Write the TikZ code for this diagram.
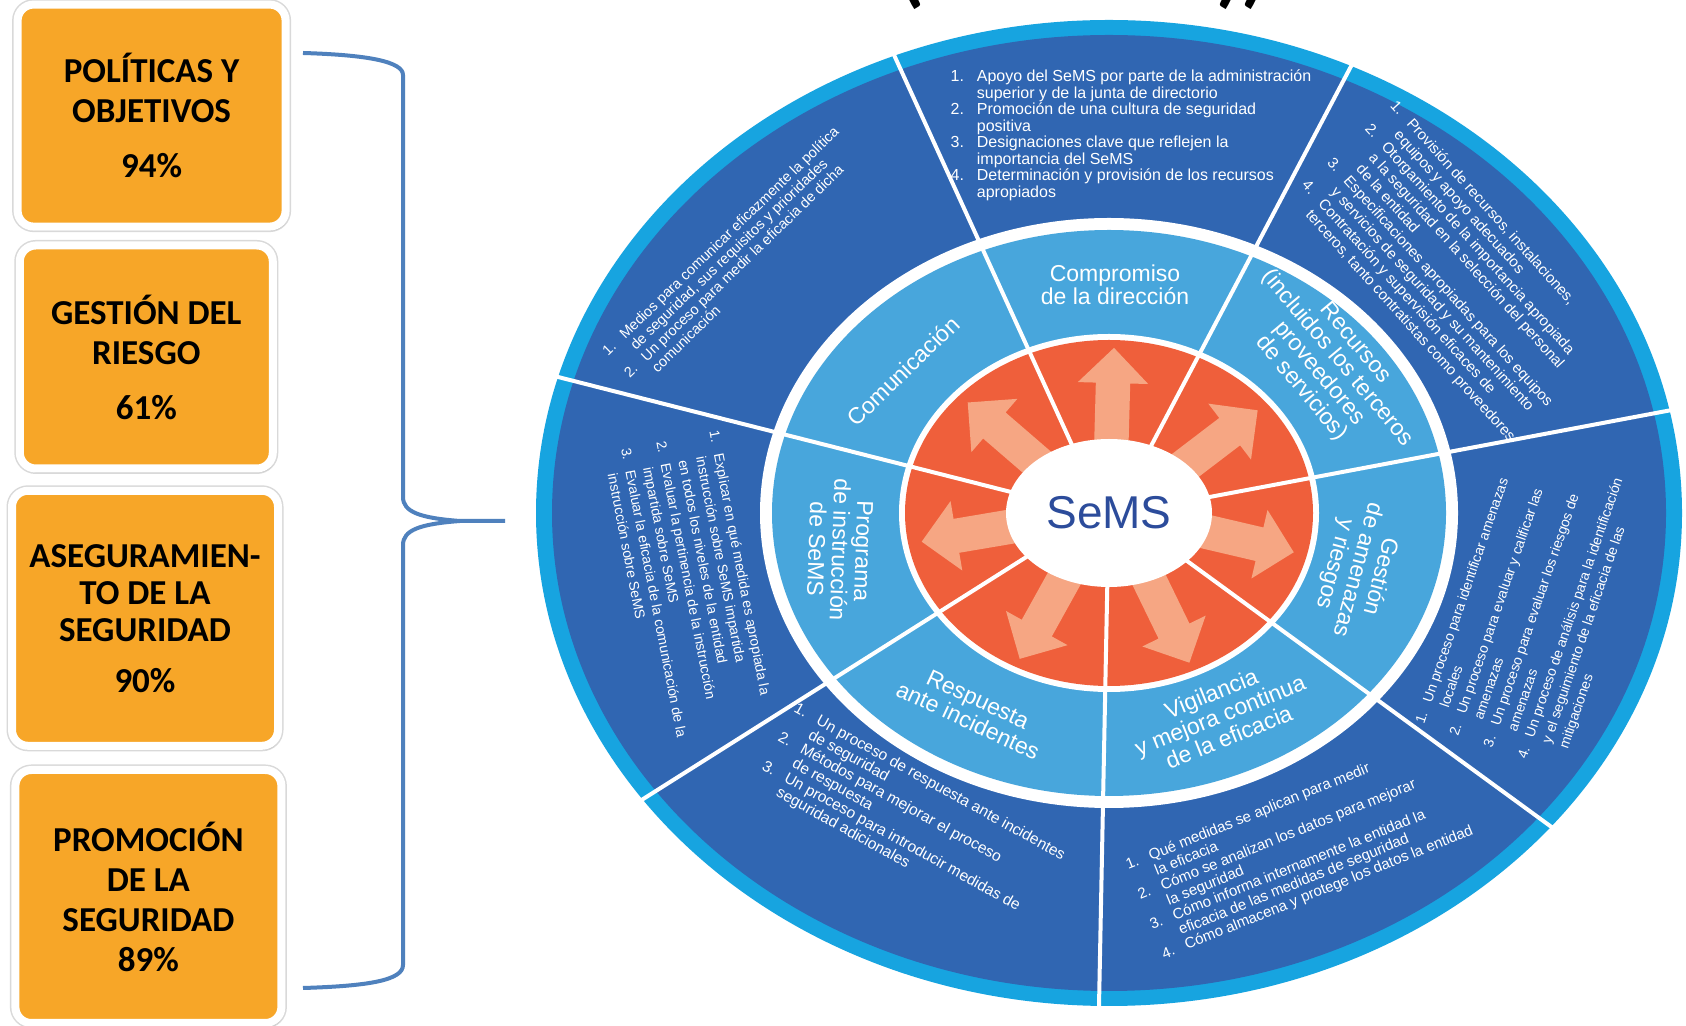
\documentclass[tikz,border=0pt]{standalone}
\usepackage{fontspec}
\setmainfont{Liberation Sans}
\newfontfamily\boxfont{Carlito}
\usetikzlibrary{shapes.arrows, shadows, calc}
\definecolor{ringcyan}{RGB}{23,164,224}
\definecolor{ringdark}{RGB}{48,102,178}
\definecolor{ringmid}{RGB}{72,166,220}
\definecolor{ringorange}{RGB}{239,95,59}
\definecolor{arrowsalmon}{RGB}{246,166,131}
\definecolor{semsblue}{RGB}{44,76,155}
\definecolor{boxorange}{RGB}{247,166,40}
\definecolor{bracketblue}{RGB}{79,129,189}
\newcommand{\itemlist}[1]{\begin{tabular}{@{}r@{\hspace{0.8em}}l@{}}#1\end{tabular}}

\begin{document}
\begin{tikzpicture}[x=1pt, y=1pt,
    outertxt/.style={text=white, inner sep=0pt, align=left},
    midtxt/.style={text=white, inner sep=0pt, align=center, font=\fontsize{23}{23.5}\selectfont},
    divider/.style={white, line width=4pt},
    bigarrow/.style={single arrow, fill=arrowsalmon, inner xsep=0pt, inner ysep=17pt,
        single arrow head extend=18pt, single arrow tip angle=90, minimum height=#1},
    boxnode/.style={fill=boxorange, draw=white, line width=8pt, rounded corners=16pt,
        preaction={draw=black!15, line width=11pt},
        drop shadow={shadow xshift=2pt, shadow yshift=-4pt, opacity=0.25},
        align=center, inner sep=0pt, font=\boxfont\bfseries\fontsize{35}{40}\selectfont}]

    \fill[white] (0,0) rectangle (1686,1025);
    \useasboundingbox (0,0) rectangle (1686,1025);

    % cut title
    \node[font=\boxfont\bfseries\fontsize{80}{80}\selectfont, anchor=base, inner sep=0pt] (tleft) at (912,1027) {(};
    \node[font=\boxfont\bfseries\fontsize{80}{80}\selectfont, anchor=base, inner sep=0pt] (tright) at (1241,1027) {))};

    % boxes on the left
    \node[boxnode, minimum width=268, minimum height=222] (pol) at (151.6,909.4) {POLÍTICAS Y\\OBJETIVOS\\[15pt]94\%};
    \node[boxnode, minimum width=253, minimum height=223] (ges) at (146.3,668) {GESTIÓN DEL\\RIESGO\\[15pt]61\%};
    \node[boxnode, minimum width=266, minimum height=255, font=\boxfont\bfseries\fontsize{35}{37}\selectfont] (ase) at (145,406.7) {ASEGURAMIEN-\\TO DE LA\\SEGURIDAD\\[14pt]90\%};
    \node[boxnode, minimum width=266, minimum height=253] (pro) at (148.4,128.5) {PROMOCIÓN\\DE LA\\SEGURIDAD\\89\%};

    % brace
    \draw[bracketblue, line width=4pt] (303,972) .. controls (370,970) and (403,963) .. (403,950) -- (403,528)
        .. controls (403,513) and (420,507) .. (460,504) -- (505,504);
    \draw[bracketblue, line width=4pt] (460,504) .. controls (420,501) and (403,495) .. (403,480) -- (403,60)
        .. controls (403,45) and (370,39) .. (303,37);

    % rings
    \coordinate (cen) at (1109,512);
    \begin{scope}[shift={(cen)}]
        \fill[ringcyan] (0,0) ellipse (573 and 493);
        \fill[ringdark] (0,0) ellipse (557 and 478);
        \fill[white] (0,0) ellipse (349 and 295);
        \fill[ringmid] (0,0) ellipse (337 and 283);
        \fill[white] (0,0) ellipse (210 and 179);
        \fill[ringorange] (0,0) ellipse (204 and 173);
    \end{scope}

    \foreach \a in {88.5,38.5,-13.75,-65,-118,190,138}
        \path let \p1=($(cen)+(\a:70 and 50)$), \p2=($(cen)+(\a:190 and 165)$),
                  \n1={atan2(\y2-\y1,\x2-\x1)}, \n2={veclen(\x2-\x1,\y2-\y1)} in
              node[bigarrow=\n2, rotate=\n1, anchor=tail] at (\p1) {};

    \foreach \a in {112,65,12,-39.5,-91,-144.5,164}
        \draw[divider] ($(cen)+(\a:95 and 70)$) -- ($(cen)+(\a:575 and 495)$);

    \fill[white] (cen) ellipse (103 and 74);
    \node[font=\fontsize{46}{50}\selectfont, text=semsblue] (sems) at (cen) {SeMS};

    % middle ring
    \node[midtxt] (lcomp) at (1115,740) {Compromiso\\de la dirección};
    \node[midtxt, rotate=44] (lcom) at (903,654) {Comunicación};
    \node[midtxt, rotate=-50] (lrec) at (1328,659) {Recursos\\(incluidos los terceros\\proveedores\\de servicios)};
    \node[midtxt, rotate=-105] (lges) at (1357,455) {Gestión\\de amenazas\\y riesgos};
    \node[midtxt, rotate=22] (lvig) at (1220,310) {Vigilancia\\y mejora continua\\de la eficacia};
    \node[midtxt, rotate=-25] (lres) at (973,315) {Respuesta\\ante incidentes};
    \node[midtxt, rotate=-92] (lpro) at (840,475) {Programa\\de instrucción\\de SeMS};

    % outer ring
    \node[outertxt, font=\fontsize{16}{16}\selectfont] (tcomp) at (1131,889) {\itemlist{
        1. & Apoyo del SeMS por parte de la administración\\
           & superior y de la junta de directorio\\
        2. & Promoción de una cultura de seguridad\\
           & positiva\\
        3. & Designaciones clave que reflejen la\\
           & importancia del SeMS\\
        4. & Determinación y provisión de los recursos\\
           & apropiados}};
    \node[outertxt, rotate=-48, font=\fontsize{15}{17}\selectfont] (trec) at (1452,753) {\itemlist{
        1. & Provisión de recursos, instalaciones,\\
           & equipos y apoyo adecuados\\
        2. & Otorgamiento de la importancia apropiada\\
           & a la seguridad en la selección del personal\\
           & de la entidad\\
        3. & Especificaciones apropiadas para los equipos\\
           & y servicios de seguridad y su mantenimiento\\
        4. & Contratación y supervisión eficaces de\\
           & terceros, tanto contratistas como proveedores}};
    \node[outertxt, rotate=71, font=\fontsize{14}{18}\selectfont] (tges) at (1537,418) {\itemlist{
        1. & Un proceso para identificar amenazas\\
           & locales\\
        2. & Un proceso para evaluar y calificar las\\
           & amenazas\\
        3. & Un proceso para evaluar los riesgos de\\
           & amenazas\\
        4. & Un proceso de análisis para la identificación\\
           & y el seguimiento de la eficacia de las\\
           & mitigaciones}};
    \node[outertxt, rotate=22, font=\fontsize{15}{16}\selectfont] (tvig) at (1300,176) {\itemlist{
        1. & Qué medidas se aplican para medir\\
           & la eficacia\\
        2. & Cómo se analizan los datos para mejorar\\
           & la seguridad\\
        3. & Cómo informa internamente la entidad la\\
           & eficacia de las medidas de seguridad\\
        4. & Cómo almacena y protege los datos la entidad}};
    \node[outertxt, rotate=-29, font=\fontsize{15.5}{16.5}\selectfont] (tres) at (909,206) {\itemlist{
        1. & Un proceso de respuesta ante incidentes\\
           & de seguridad\\
        2. & Métodos para mejorar el proceso\\
           & de respuesta\\
        3. & Un proceso para introducir medidas de\\
           & seguridad adicionales}};
    \node[outertxt, rotate=-79, font=\fontsize{14}{18}\selectfont] (tpro) at (688,439) {\itemlist{
        1. & Explicar en qué medida es apropiada la\\
           & instrucción sobre SeMS impartida\\
           & en todos los niveles de la entidad\\
        2. & Evaluar la pertinencia de la instrucción\\
           & impartida sobre SeMS\\
        3. & Evaluar la eficacia de la comunicación de la\\
           & instrucción sobre SeMS}};
    \node[outertxt, rotate=44, font=\fontsize{14.5}{15.5}\selectfont] (tcom) at (738,766) {\itemlist{
        1. & Medios para comunicar eficazmente la política\\
           & de seguridad, sus requisitos y prioridades\\
        2. & Un proceso para medir la eficacia de dicha\\
           & comunicación}};

\end{tikzpicture}
\end{document}
